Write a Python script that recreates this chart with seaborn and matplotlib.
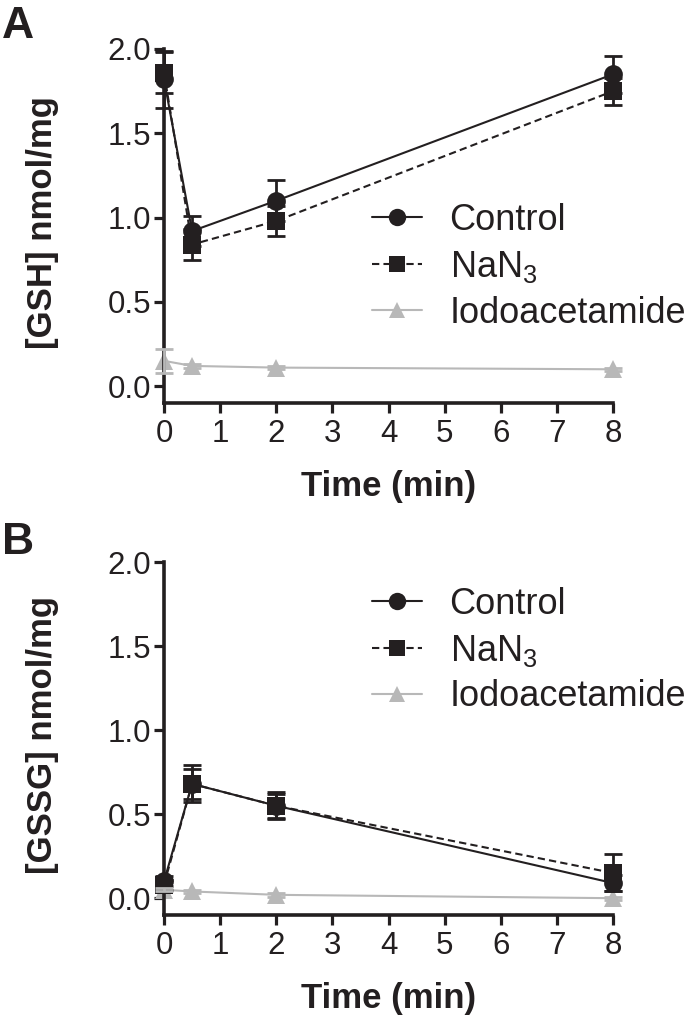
import matplotlib
matplotlib.use("Agg")
import matplotlib.pyplot as plt
import seaborn as sns
import pandas as pd
from matplotlib.lines import Line2D

sns.set_theme(style="ticks")
plt.rcParams['font.family'] = ['Liberation Sans', 'DejaVu Sans']
plt.rcParams['mathtext.fontset'] = 'custom'
plt.rcParams['mathtext.rm'] = 'Liberation Sans'
plt.rcParams['mathtext.it'] = 'Liberation Sans'

time = [0, 0.5, 2, 8]
series = ["Control", "NaN$_3$", "Iodoacetamide"]

gsh_control = [1.82, 0.92, 1.10, 1.85]
gsh_control_err = [0.17, 0.09, 0.12, 0.11]
gsh_nan3 = [1.86, 0.84, 0.98, 1.75]
gsh_nan3_err = [0.12, 0.09, 0.09, 0.08]
gsh_iodo = [0.15, 0.12, 0.11, 0.10]
gsh_iodo_err = [0.07, 0.01, 0.01, 0.01]

gssg_control = [0.10, 0.68, 0.55, 0.09]
gssg_control_err = [0.03, 0.11, 0.08, 0.05]
gssg_nan3 = [0.08, 0.68, 0.55, 0.15]
gssg_nan3_err = [0.03, 0.09, 0.07, 0.11]
gssg_iodo = [0.05, 0.04, 0.02, 0.00]
gssg_iodo_err = [0.01, 0.01, 0.01, 0.01]

dark = "#231f20"
grey = "#b8b8b8"
styles = {
    "Control": dict(color=dark, marker="o", ls="-", ms=13.5),
    "NaN$_3$": dict(color=dark, marker="s", ls=(0, (3.5, 2)), ms=12.5),
    "Iodoacetamide": dict(color=grey, marker="^", ls="-", ms=13),
}

W, H = 693, 1031
fig = plt.figure(figsize=(W/100, H/100), dpi=100)
axA = fig.add_axes([164/W, 1-403/H, (613-164)/W, (403-49)/H])
axB = fig.add_axes([164/W, 1-915/H, (613-164)/W, (915-562)/H])

def draw(ax, data, ylabel, legend_anchor):
    for name, (vals, errs) in zip(series, data):
        st = styles[name]
        df = pd.DataFrame({"Time": time, "val": vals})
        sns.lineplot(data=df, x="Time", y="val", ax=ax, color=st["color"],
                     linestyle=st["ls"], lw=1.5,
                     marker=st["marker"], markersize=st["ms"], markeredgewidth=0,
                     clip_on=False, zorder=3 if name != "Iodoacetamide" else 2)
        ax.errorbar(time, vals, yerr=errs, fmt="none", ecolor=st["color"],
                    elinewidth=2, capsize=6.5, capthick=2, clip_on=False, zorder=3)
    ax.set_xlim(0, 8)
    ax.set_ylim(-0.1, 2.0)
    ax.set_xticks(range(0, 9))
    ax.set_yticks([0.0, 0.5, 1.0, 1.5, 2.0])
    ax.set_yticklabels(["0.0", "0.5", "1.0", "1.5", "2.0"])
    ax.tick_params(axis="both", length=7.5, width=2.3, labelsize=22.5, color=dark,
                   labelcolor=dark)
    ax.tick_params(axis="x", pad=4)
    ax.tick_params(axis="y", pad=2)
    for sp in ["top", "right"]:
        ax.spines[sp].set_visible(False)
    for sp in ["left", "bottom"]:
        ax.spines[sp].set_linewidth(2.6)
        ax.spines[sp].set_color(dark)
    ax.set_xlabel("Time (min)", fontsize=25, fontweight="bold", color=dark)
    ax.set_ylabel(ylabel, fontsize=25, fontweight="bold", color=dark)
    ax.xaxis.set_label_coords(0.5, -0.19)
    ax.yaxis.set_label_coords(-0.234, 0.51)
    handles = []
    for name in series:
        st = styles[name]
        handles.append(Line2D([], [], color=st["color"], ls=st["ls"], lw=1.5,
                              marker=st["marker"], markersize=st["ms"] - 1, markeredgewidth=0))
    leg = ax.legend(handles, series, loc="upper left", bbox_to_anchor=legend_anchor,
                    frameon=False, fontsize=26, handlelength=1.4, handletextpad=0.75,
                    labelspacing=0.3, borderaxespad=0, borderpad=0)
    for t in leg.get_texts():
        t.set_color(dark)

draw(axA, [(gsh_control, gsh_control_err), (gsh_nan3, gsh_nan3_err), (gsh_iodo, gsh_iodo_err)],
     "[GSH] nmol/mg", (0.463, 0.565))
draw(axB, [(gssg_control, gssg_control_err), (gssg_nan3, gssg_nan3_err), (gssg_iodo, gssg_iodo_err)],
     "[GSSG] nmol/mg", (0.463, 0.93))

fig.text(2/W, 1-27/H, "A", fontsize=32, fontweight="bold", color=dark, va="center", ha="left")
fig.text(2/W, 1-543/H, "B", fontsize=32, fontweight="bold", color=dark, va="center", ha="left")

fig.savefig("out.png", dpi=100)
